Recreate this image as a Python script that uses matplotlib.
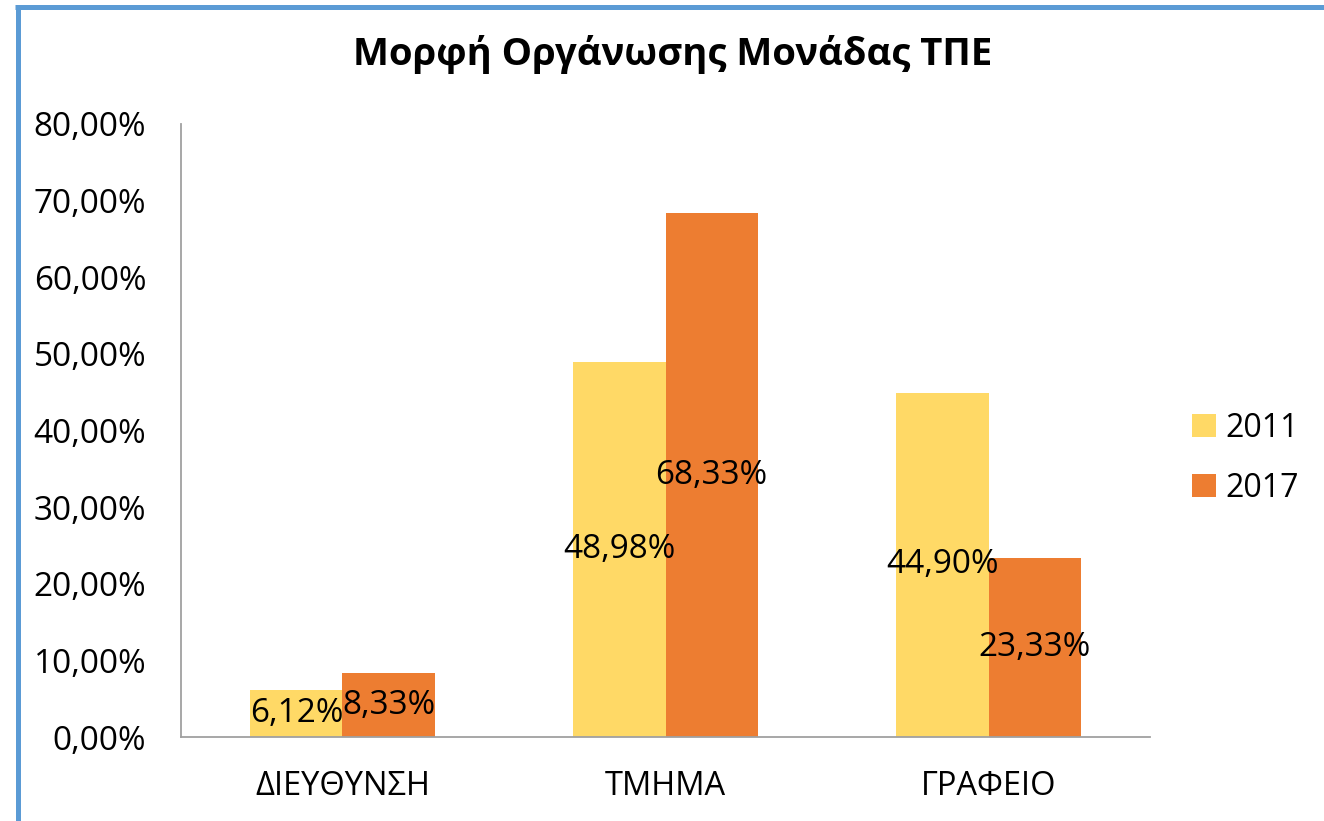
import numpy as np
import matplotlib.pyplot as plt
from matplotlib.lines import Line2D

categories = ["ΔΙΕΥΘΥΝΣΗ", "ΤΜΗΜΑ", "ΓΡΑΦΕΙΟ"]
years = ["2011", "2017"]
values_2011 = [6.12, 48.98, 44.90]
values_2017 = [8.33, 68.33, 23.33]
y_ticks = [0, 10, 20, 30, 40, 50, 60, 70, 80]

plt.rcParams['font.family'] = ['Open Sans', 'DejaVu Sans']

fig = plt.figure(figsize=(13.24, 8.21), dpi=100)
ax = fig.add_axes([0.1367, 0.1023, 0.7319, 0.7467])

# border of the chart area (left and top edge only are visible)
border = "#5B9BD5"
fig.add_artist(Line2D([17.5 / 1324, 17.5 / 1324], [0, 1 - 5 / 821], color=border, lw=3.6,
                      transform=fig.transFigure, solid_capstyle='butt'))
fig.add_artist(Line2D([15 / 1324, 1], [1 - 7.5 / 821, 1 - 7.5 / 821], color=border, lw=3.6,
                      transform=fig.transFigure, solid_capstyle='butt'))

x = np.arange(len(categories))
w = 0.285
b1 = ax.bar(x - w / 2, values_2011, w, color="#FFD966", label=years[0])
b2 = ax.bar(x + w / 2, values_2017, w, color="#ED7D31", label=years[1])

def fmt(v):
    return f"{v:.2f}".replace(".", ",") + "%"

for bars, vals in [(b1, values_2011), (b2, values_2017)]:
    for r, v in zip(bars, vals):
        ax.text(r.get_x() + r.get_width() / 2, v / 2, fmt(v), ha='center', va='center',
                fontsize=24, color='black')

ax.set_xlim(-0.5, 2.5)
ax.set_ylim(0, 80)
ax.set_yticks(y_ticks)
ax.set_yticklabels([f"{t:.2f}".replace(".", ",") + "%" for t in y_ticks], fontsize=24)
ax.set_xticks(x)
ax.set_xticklabels(categories, fontsize=23.5)
ax.tick_params(axis='y', length=0, pad=25)
ax.tick_params(axis='x', length=0, pad=24)
for s in ['top', 'right']:
    ax.spines[s].set_visible(False)
for s in ['left', 'bottom']:
    ax.spines[s].set_color('#A0A0A0')
    ax.spines[s].set_linewidth(1.3)

fig.text(0.508, 1 - 55 / 821, "Μορφή Οργάνωσης Μονάδας ΤΠΕ", ha='center', va='center',
         fontsize=27.5, fontweight='bold')

ax.legend(loc='center left', bbox_to_anchor=(1.027, 0.455), frameon=False, fontsize=23,
          handlelength=0.75, handleheight=0.75, handletextpad=0.3, labelspacing=0.85,
          borderpad=0)

fig.savefig("out.png", dpi=100)
